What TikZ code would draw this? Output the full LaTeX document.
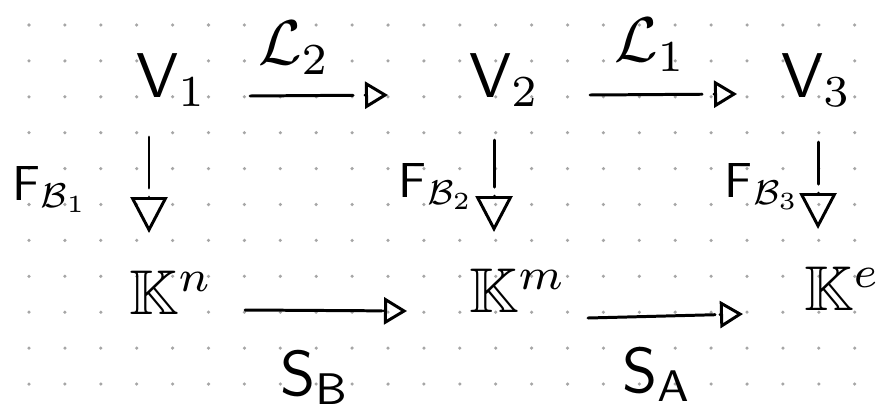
\documentclass[tikz,border=0pt]{standalone}
\usepackage{amsmath,amssymb}
\usetikzlibrary{arrows.meta,calc}

\begin{document}
\begin{tikzpicture}[x=0.02cm, y=-0.02cm,
  obj/.style={inner sep=0pt, anchor=base west, scale=3.6},
  lbl/.style={inner sep=0pt, scale=3.6},
  flbl/.style={inner sep=0pt, anchor=base west, scale=2.8},
  harr/.style={line width=1.7pt, line cap=round, -{Triangle[open, length=0.46cm, width=0.54cm]}},
  varr/.style={line width=1.7pt, line cap=round, -{Triangle[open, length=0.72cm, width=0.74cm]}}
]
\fill[white] (0,0) rectangle (878,416);
\useasboundingbox (0,0) rectangle (878,416);

% Dot grid
\foreach \i in {0,...,23}
  \foreach \j in {0,...,10}
    \fill[gray!70] (29+35.9*\i, 25+35.9*\j) circle (1pt);

% Spaces
\node[obj] (V1) at (135,97) {$\mathsf{V}_1$};
\node[obj] (V2) at (468,97) {$\mathsf{V}_2$};
\node[obj] (V3) at (780,97) {$\mathsf{V}_3$};
\node[obj] (Kn) at (128,314) {$\mathbb{K}^n$};
\node[obj] (Km) at (468,312) {$\mathbb{K}^m$};
\node[obj] (Ke) at (803,310) {$\mathbb{K}^e$};

% Map labels
\node[lbl] (L2) at (294,48) {$\mathcal{L}_2$};
\node[lbl] (L1) at (650,45) {$\mathcal{L}_1$};
\node[flbl] (FB1) at (12,200) {$\mathsf{F}_{\mathcal{B}_1}$};
\node[flbl] (FB2) at (398,197) {$\mathsf{F}_{\mathcal{B}_2}$};
\node[flbl] (FB3) at (724,197) {$\mathsf{F}_{\mathcal{B}_3}$};
\node[lbl] (SB) at (315,378) {$\mathsf{S}_{\mathsf{B}}$};
\node[lbl] (SA) at (657,375) {$\mathsf{S}_{\mathsf{A}}$};

% Ends of the maps
\coordinate (l2s) at ($(V1.base west)+(115,-1)$);
\coordinate (l2e) at ($(V2.base west)+(-80,-2)$);
\coordinate (l1s) at ($(V2.base west)+(122,-2)$);
\coordinate (l1e) at ($(V3.base west)+(-43,-3)$);
\coordinate (sbs) at ($(Kn.base west)+(117,-4)$);
\coordinate (sbe) at ($(Km.base west)+(-61,-1)$);
\coordinate (sas) at ($(Km.base west)+(120,6)$);
\coordinate (sae) at ($(Ke.base west)+(-60,4)$);
\coordinate (f1s) at ($(V1.base west)+(14,40)$);
\coordinate (f1e) at ($(Kn.base west)+(21,-81)$);
\coordinate (f2s) at ($(V2.base west)+(26,43)$);
\coordinate (f2e) at ($(Km.base west)+(26,-80)$);
\coordinate (f3s) at ($(V3.base west)+(38,45)$);
\coordinate (f3e) at ($(Ke.base west)+(15,-81)$);

% Horizontal maps (shaft, gap, open head)
\draw[harr] (l2s) -- ($(l2e)!0.7cm!(l2s)$) ($(l2e)!0.46cm!(l2s)$) -- (l2e);
\draw[harr] (l1s) -- ($(l1e)!0.7cm!(l1s)$) ($(l1e)!0.46cm!(l1s)$) -- (l1e);
\draw[harr] (sbs) -- ($(sbe)!0.5cm!(sbs)$) ($(sbe)!0.46cm!(sbs)$) -- (sbe);
\draw[harr] (sas) -- ($(sae)!0.56cm!(sas)$) ($(sae)!0.46cm!(sas)$) -- (sae);

% Coordinate maps
\draw[varr] (f1s) -- ($(f1e)!0.9cm!(f1s)$) ($(f1e)!0.72cm!(f1s)$) -- (f1e);
\draw[varr] (f2s) -- ($(f2e)!0.9cm!(f2s)$) ($(f2e)!0.72cm!(f2s)$) -- (f2e);
\draw[varr] (f3s) -- ($(f3e)!0.9cm!(f3s)$) ($(f3e)!0.72cm!(f3s)$) -- (f3e);

\end{tikzpicture}
\end{document}
